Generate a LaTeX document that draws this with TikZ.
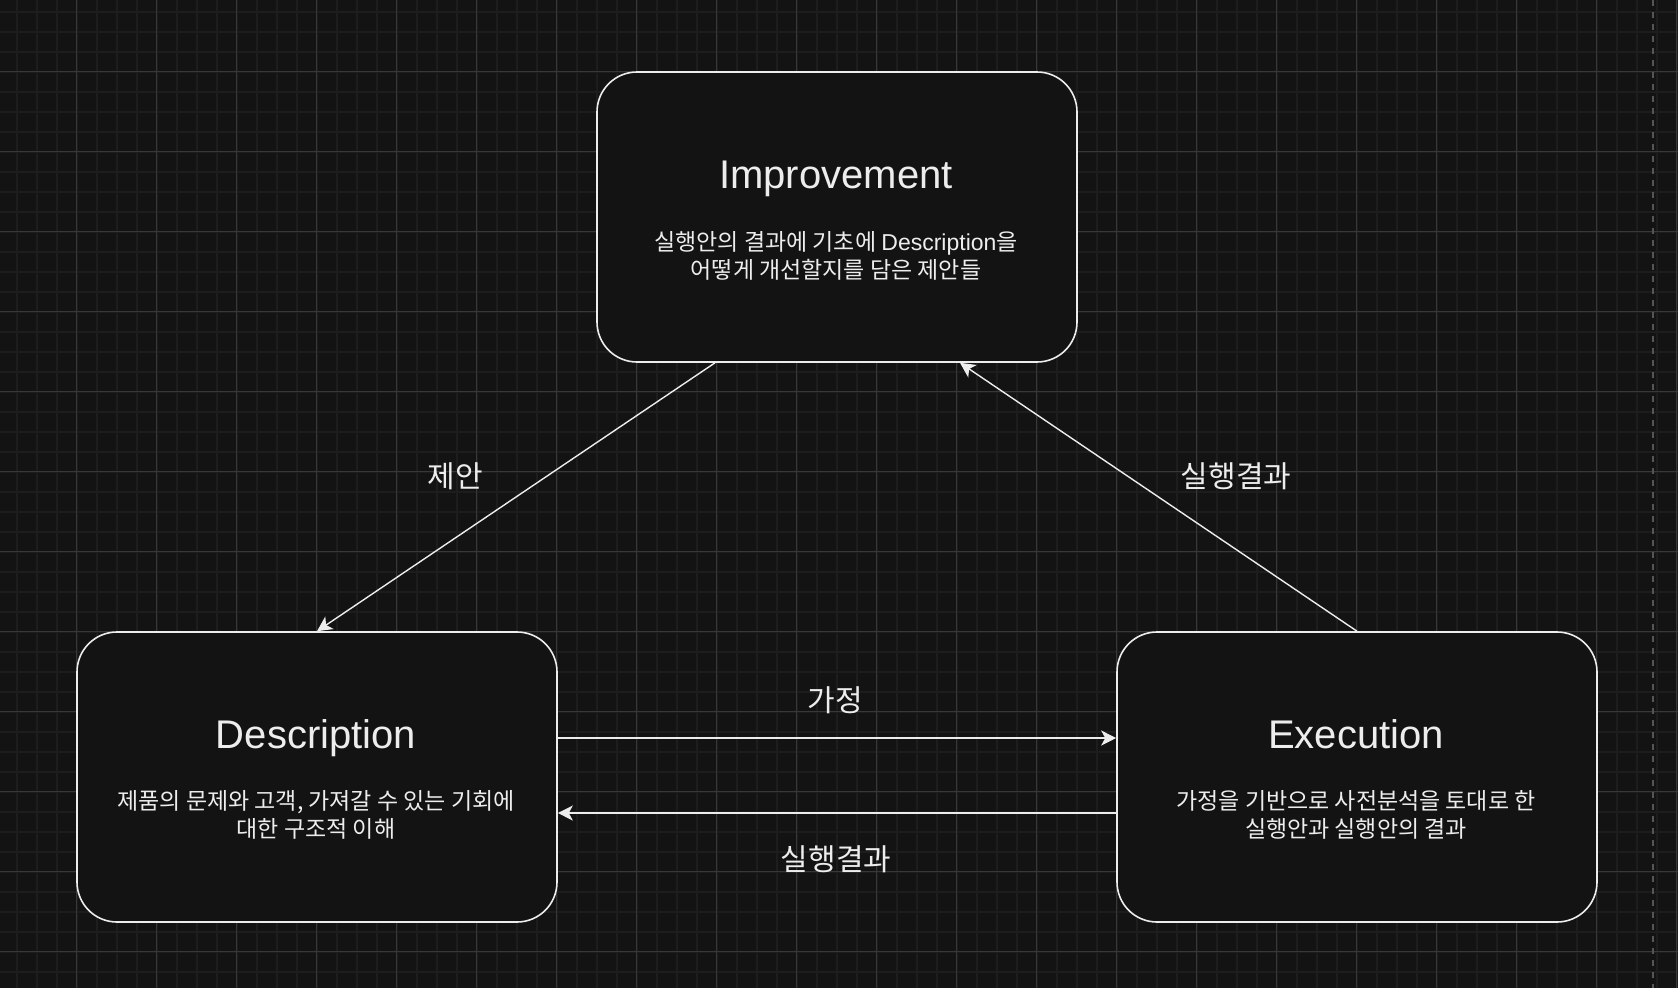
\documentclass[tikz,border=0pt]{standalone}
\usepackage{fontspec}
\setmainfont{Liberation Sans}
\newfontfamily\kr{Noto Sans CJK KR}
\newfontfamily\lat{Liberation Sans}
\usetikzlibrary{arrows.meta,calc}
\definecolor{bg}{HTML}{131313}
\definecolor{gridminor}{HTML}{1D1D1D}
\definecolor{gridmajor}{HTML}{383838}
\definecolor{fg}{HTML}{EDEDED}
\definecolor{dashcol}{HTML}{555555}
\tikzset{
  boxnode/.style={draw=fg, line width=1.6pt, fill=bg, rounded corners=40pt,
    minimum width=480pt, minimum height=290pt, inner sep=0pt},
  titletext/.style={text=fg, font=\lat\fontsize{40}{44}\selectfont, inner sep=0pt, anchor=base},
  bodytext/.style={text=fg, font=\kr\fontsize{23}{28}\selectfont, align=center, inner sep=0pt},
  edgelabel/.style={text=fg, font=\kr\fontsize{30}{32}\selectfont, inner sep=0pt},
  conn/.style={draw=fg, line width=1.4pt, -{Stealth[length=15pt, width=15pt, inset=4pt]}}
}
\begin{document}
\begin{tikzpicture}[x=1pt,y=-1pt]
\useasboundingbox (0,0) rectangle (1678,988);
\fill[bg] (0,0) rectangle (1678,988);
% minor grid
\foreach \i in {0,...,83} {
  \draw[gridminor, line width=1.8pt] (16.7+20*\i,0) -- (16.7+20*\i,988);
}
\foreach \j in {0,...,49} {
  \draw[gridminor, line width=1.8pt] (0,11.7+20*\j) -- (1678,11.7+20*\j);
}
% major grid
\foreach \i in {0,...,20} {
  \draw[gridmajor, line width=1pt] (76.7+80*\i,0) -- (76.7+80*\i,988);
}
\foreach \j in {0,...,11} {
  \draw[gridmajor, line width=1pt] (0,71.7+80*\j) -- (1678,71.7+80*\j);
}
% dashed page border
\draw[dashcol, line width=1.8pt, dash pattern=on 6pt off 6pt] (1653,0) -- (1653,988);

% boxes
\node[boxnode] (imp) at (837,217) {};
\node[boxnode] (desc) at (317,777) {};
\node[boxnode] (exec) at (1357,777) {};

% texts
\node[titletext] (impt) at (836,188) {Improvement};
\node[bodytext] (impb) at (836,256) {실행안의 결과에 기초에 {\lat Description}을\\어떻게 개선할지를 담은 제안들};
\node[titletext] (desct) at (316,748) {Description};
\node[bodytext] (descb) at (316,815) {제품의 문제와 고객, 가져갈 수 있는 기회에\\대한 구조적 이해};
\node[titletext] (exect) at (1356,748) {Execution};
\node[bodytext] (execb) at (1356,815) {가정을 기반으로 사전분석을 토대로 한\\실행안과 실행안의 결과};

% connectors
\draw[conn] ([xshift=-122pt]imp.south) -- (desc.north);
\draw[conn] (exec.north) -- ([xshift=123pt]imp.south);
\draw[conn] ([yshift=39pt]desc.east) -- ([yshift=39pt]exec.west);
\draw[conn] ([yshift=-36pt]exec.west) -- ([yshift=-36pt]desc.east);

% edge labels
\node[edgelabel] (l1) at (455,476) {제안};
\node[edgelabel] (l2) at (1236,476) {실행결과};
\node[edgelabel] (l3) at (835,700) {가정};
\node[edgelabel] (l4) at (836,859) {실행결과};
\end{tikzpicture}
\end{document}
